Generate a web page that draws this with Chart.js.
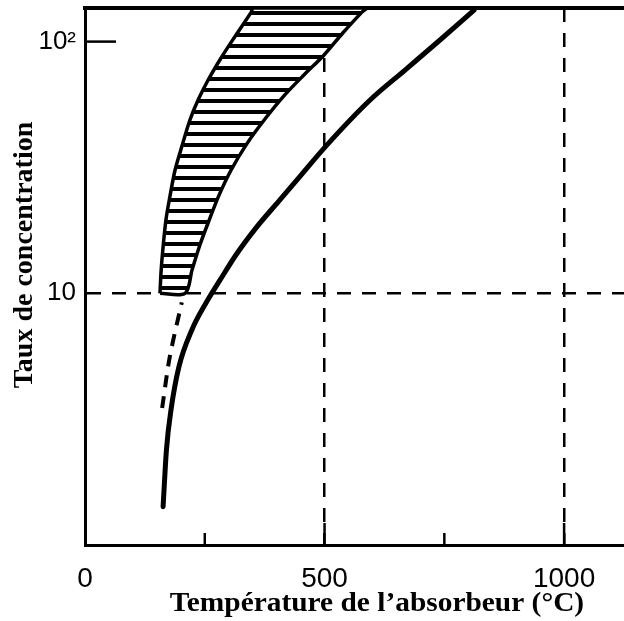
<!DOCTYPE html>
<html>
<head>
<meta charset="utf-8">
<script src="https://cdn.jsdelivr.net/npm/chart.js@4/dist/chart.umd.min.js"></script>
<style>
  html, body { margin: 0; padding: 0; background: #fff; }
  #wrap { width: 624px; height: 621px; }
</style>
</head>
<body>
<div id="wrap"><canvas id="chart"></canvas></div>
<script>
// solid curve
const solidX = [163, 170, 179.5, 196, 223, 252.5, 282, 315, 357, 405, 451, 501, 595, 668, 741, 812];
const solidY = [1.42, 2.39, 3.44, 5.1, 7.15, 9.15, 11.3, 14.2, 18.2, 23.3, 29.5, 38.1, 58.6, 77.1, 101.5, 133.5];

// dashed continuation under the hatched band
const dashX = [161, 177, 202];
const dashY = [3.5, 5.6, 9.2];

// hatched band, left and right edges
const bandLeftX = [156.5, 159, 163, 169, 177, 188, 203, 219, 236, 257, 284, 311, 347, 351];
const bandLeftY = [10, 12.4, 15.3, 19.6, 24.1, 30.9, 38.8, 48.8, 58.6, 70.4, 86.1, 103.4, 131, 136];
const bandRightX = [209, 223.5, 240, 259, 280, 305, 336, 374, 417, 457, 499, 538, 578, 587];
const bandRightY = [10, 12.4, 15.6, 19.5, 24.6, 30.9, 38.8, 48.8, 61.4, 73.7, 88.5, 108.2, 131, 136];

const xTicks = [0, 500, 1000];
const xInnerTicks = [250, 500, 750, 1000];
const yTicks = [10, 100];
const yTickLabels = ['10', '10²'];
const yInnerTicks = [100];

const xTitle = 'Température de l’absorbeur (°C)';
const yTitle = 'Taux de concentration';

const pts = (xs, ys) => xs.map((x, i) => ({x: x, y: ys[i]}));

const leftPts = pts(bandLeftX, bandLeftY);
const rightPts = pts(bandRightX, bandRightY);
const bandShape = leftPts.concat(rightPts.slice().reverse(), [leftPts[0]]);

function stripes() {
    const c = document.createElement('canvas');
    c.width = 8;
    c.height = 11;
    const g = c.getContext('2d');
    g.fillStyle = '#fff';
    g.fillRect(0, 0, 8, 11);
    g.fillStyle = '#000';
    g.fillRect(0, 0, 8, 4);
    return g.createPattern(c, 'repeat');
}

// short ticks drawn inward from the axes + axis titles
const extras = {
    id: 'extras',
    afterDraw(chart) {
        const ctx = chart.ctx;
        const xs = chart.scales.x, ys = chart.scales.y;
        const a = chart.chartArea;
        ctx.save();
        ctx.strokeStyle = '#000';
        ctx.lineWidth = 2.5;
        xInnerTicks.forEach(v => {
            const px = xs.getPixelForValue(v);
            const len = xTicks.includes(v) ? 22 : 12;
            ctx.beginPath();
            ctx.moveTo(px, a.bottom);
            ctx.lineTo(px, a.bottom - len);
            ctx.stroke();
        });
        yInnerTicks.forEach(v => {
            const py = ys.getPixelForValue(v);
            ctx.beginPath();
            ctx.moveTo(a.left, py);
            ctx.lineTo(a.left + 31, py);
            ctx.stroke();
        });

        ctx.fillStyle = '#000';
        ctx.font = 'bold 28px "Liberation Serif"';
        ctx.textAlign = 'center';
        ctx.textBaseline = 'middle';
        ctx.save();
        ctx.translate(a.left + 292, a.bottom + 59);
        ctx.scale(1.05, 1);
        ctx.fillText(xTitle, 0, 0);
        ctx.restore();
        ctx.translate(25, a.top + 247);
        ctx.rotate(-Math.PI / 2);
        ctx.fillText(yTitle, 0, 0);
        ctx.restore();
    }
};

new Chart(document.getElementById('chart'), {
    type: 'line',
    data: {
        datasets: [
            {
                data: bandShape,
                borderColor: '#000',
                borderWidth: 3.5,
                backgroundColor: stripes(),
                fill: 'shape',
                tension: 0.3,
                pointRadius: 0
            },
            {
                data: pts(dashX, dashY),
                borderColor: '#000',
                borderWidth: 4,
                borderDash: [12, 9],
                fill: false,
                tension: 0.3,
                pointRadius: 0
            },
            {
                data: pts(solidX, solidY),
                borderColor: '#000',
                borderWidth: 5,
                borderCapStyle: 'round',
                cubicInterpolationMode: 'monotone',
                fill: false,
                pointRadius: 0
            }
        ]
    },
    options: {
        responsive: true,
        maintainAspectRatio: false,
        animation: false,
        layout: {padding: 0},
        plugins: {legend: {display: false}, tooltip: {enabled: false}},
        scales: {
            x: {
                type: 'linear',
                min: 0,
                max: 1125,
                afterBuildTicks: s => { s.ticks = xTicks.map(v => ({value: v})); },
                afterFit: s => { s.height = 76; s.paddingLeft = 0; s.paddingRight = 0; },
                ticks: {
                    color: '#000',
                    padding: 17,
                    maxRotation: 0,
                    font: {family: '"Liberation Sans"', size: 28},
                    callback: v => String(v)
                },
                grid: {
                    color: c => (c.tick && c.tick.value === 0) ? 'transparent' : '#000',
                    lineWidth: 2.5,
                    drawTicks: false
                },
                border: {display: true, color: '#000', width: 3, dash: [14, 11]}
            },
            xTop: {
                type: 'linear',
                position: 'top',
                min: 0,
                max: 1125,
                afterFit: s => { s.height = 8; s.paddingLeft = 0; s.paddingRight = 0; },
                ticks: {display: false},
                grid: {display: false, drawTicks: false},
                border: {display: true, color: '#000', width: 4}
            },
            y: {
                type: 'logarithmic',
                min: 1,
                max: 136,
                afterBuildTicks: s => { s.ticks = yTicks.map(v => ({value: v})); },
                afterFit: s => { s.width = 85; s.paddingTop = 0; s.paddingBottom = 0; },
                ticks: {
                    color: '#000',
                    padding: 9,
                    crossAlign: 'near',
                    font: {family: '"Liberation Sans"', size: 26},
                    callback: v => yTickLabels[yTicks.indexOf(v)]
                },
                grid: {
                    color: c => (c.tick && c.tick.value === 10) ? '#000' : 'transparent',
                    lineWidth: 2.5,
                    drawTicks: false
                },
                border: {display: true, color: '#000', width: 3, dash: [14, 11]}
            }
        }
    },
    plugins: [extras]
});
</script>
</body>
</html>
